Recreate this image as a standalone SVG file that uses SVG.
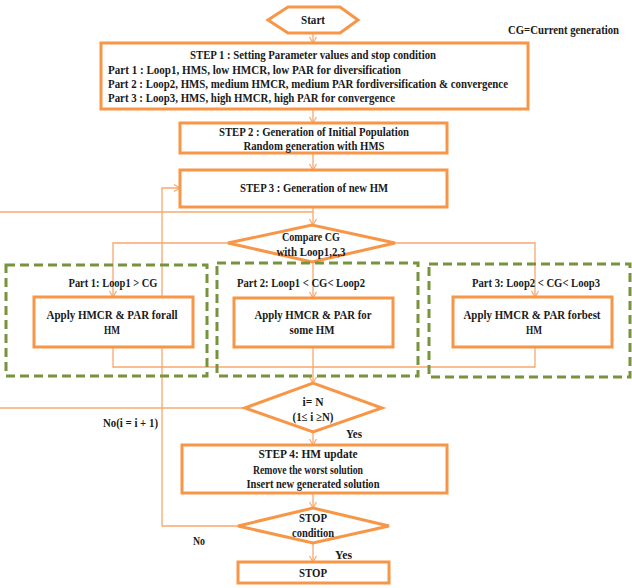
<svg xmlns="http://www.w3.org/2000/svg" width="632" height="588" viewBox="0 0 632 588">
<defs>
<style>
.box{fill:#fff;stroke:#F79646;stroke-width:3}
.dash{fill:none;stroke:#77933C;stroke-width:3;stroke-dasharray:9 5}
.con{fill:none;stroke:#F7A86E;stroke-width:1.3}
text{font-family:"Liberation Serif","Times New Roman",serif;font-weight:bold;font-size:12px;fill:#1a1a1a}
.c{text-anchor:middle}
</style>
<marker id="arr" markerUnits="userSpaceOnUse" markerWidth="10" markerHeight="10" refX="7" refY="4" orient="auto">
<path d="M1,0.5 L7,4 L1,7.5" fill="none" stroke="#F7A86E" stroke-width="1.2"/>
</marker>
</defs>
<rect width="632" height="588" fill="#fff"/>

<g id="connectors">
<path class="con" d="M313,33 V43" marker-end="url(#arr)"/>
<path class="con" d="M313,109 V123" marker-end="url(#arr)"/>
<path class="con" d="M313,153 V170" marker-end="url(#arr)"/>
<path class="con" d="M313,207 V225" marker-end="url(#arr)"/>
<path class="con" d="M0,212 H313"/>
<path class="con" d="M245,408 H0"/>
<path class="con" d="M228,243 H113 V297" marker-end="url(#arr)"/>
<path class="con" d="M395,243 H535 V297" marker-end="url(#arr)"/>
<path class="con" d="M313,262 V298" marker-end="url(#arr)"/>
<path class="con" d="M113,347 V367 H535 V347"/>
<path class="con" d="M313,347 V383" marker-end="url(#arr)"/>
<path class="con" d="M313,432 V445" marker-end="url(#arr)"/>
<path class="con" d="M313,493 V508" marker-end="url(#arr)"/>
<path class="con" d="M313,543 V562" marker-end="url(#arr)"/>
<path class="con" d="M238,526 H162 V188 H180" marker-end="url(#arr)"/>
</g>

<g id="start">
<polygon class="box" points="268,20 288,7 340,7 358,20 340,33 288,33"/>
<text class="c" x="313" y="24" textLength="24" lengthAdjust="spacingAndGlyphs">Start</text>
</g>
<g id="cg-note">
<text x="508" y="34" textLength="111" lengthAdjust="spacingAndGlyphs">CG=Current generation</text>
</g>

<g id="step1">
<rect class="box" x="101" y="43" width="427" height="66"/>
<text class="c" x="313" y="59" textLength="246" lengthAdjust="spacingAndGlyphs">STEP 1 : Setting Parameter values and stop condition</text>
<text x="108" y="74" textLength="293" lengthAdjust="spacingAndGlyphs">Part 1 : Loop1, HMS, low HMCR,  low PAR for diversification</text>
<text x="108" y="88" textLength="400" lengthAdjust="spacingAndGlyphs">Part 2 : Loop2, HMS, medium HMCR, medium PAR fordiversification &amp; convergence</text>
<text x="108" y="102" textLength="287" lengthAdjust="spacingAndGlyphs">Part 3 : Loop3, HMS, high HMCR,  high PAR for convergence</text>
</g>

<g id="step2">
<rect class="box" x="180" y="123" width="267" height="30"/>
<text class="c" x="314" y="136" textLength="190" lengthAdjust="spacingAndGlyphs">STEP 2 : Generation of Initial Population</text>
<text class="c" x="314" y="150" textLength="141" lengthAdjust="spacingAndGlyphs">Random generation with HMS</text>
</g>

<g id="step3">
<rect class="box" x="180" y="170" width="267" height="37"/>
<text class="c" x="314" y="192" textLength="148" lengthAdjust="spacingAndGlyphs">STEP 3 : Generation of new HM</text>
</g>

<g id="compare">
<polygon class="box" points="228,243 312,225 395,243 312,262"/>
<text class="c" x="311" y="241" textLength="58" lengthAdjust="spacingAndGlyphs">Compare CG</text>
<text class="c" x="311" y="256" textLength="69" lengthAdjust="spacingAndGlyphs">with Loop1,2,3</text>
</g>

<g id="part1">
<rect class="dash" x="6" y="265" width="201" height="111"/>
<text class="c" x="113" y="287" textLength="89" lengthAdjust="spacingAndGlyphs">Part 1: Loop1 &gt; CG</text>
<rect class="box" x="34" y="297" width="159" height="50"/>
<text class="c" x="112" y="319" textLength="131" lengthAdjust="spacingAndGlyphs">Apply HMCR  &amp; PAR forall</text>
<text class="c" x="112" y="334" textLength="16" lengthAdjust="spacingAndGlyphs">HM</text>
</g>

<g id="part2">
<rect class="dash" x="217" y="263" width="201" height="113"/>
<text class="c" x="301" y="287" textLength="128" lengthAdjust="spacingAndGlyphs">Part 2: Loop1 &lt; CG&lt; Loop2</text>
<rect class="box" x="234" y="298" width="159" height="49"/>
<text class="c" x="313" y="319" textLength="117" lengthAdjust="spacingAndGlyphs">Apply HMCR  &amp; PAR for</text>
<text class="c" x="312" y="334" textLength="45" lengthAdjust="spacingAndGlyphs">some HM</text>
</g>

<g id="part3">
<rect class="dash" x="429" y="264" width="201" height="113"/>
<text class="c" x="536" y="287" textLength="128" lengthAdjust="spacingAndGlyphs">Part 3: Loop2 &lt; CG&lt; Loop3</text>
<rect class="box" x="453" y="297" width="159" height="50"/>
<text class="c" x="532" y="319" textLength="137" lengthAdjust="spacingAndGlyphs">Apply HMCR  &amp; PAR forbest</text>
<text class="c" x="534" y="334" textLength="16" lengthAdjust="spacingAndGlyphs">HM</text>
</g>

<g id="check-n">
<polygon class="box" points="245,408 313,383 382,408 313,432"/>
<text class="c" x="313" y="406" textLength="21" lengthAdjust="spacingAndGlyphs">i= N</text>
<text class="c" x="313" y="421" textLength="41" lengthAdjust="spacingAndGlyphs">(1≤ i ≥N)</text>
<text x="346" y="438" textLength="16" lengthAdjust="spacingAndGlyphs">Yes</text>
<text x="103" y="427" textLength="55" lengthAdjust="spacingAndGlyphs">No(i = i + 1)</text>
</g>

<g id="step4">
<rect class="box" x="182" y="445" width="265" height="48"/>
<text class="c" x="308" y="458" textLength="99" lengthAdjust="spacingAndGlyphs">STEP 4: HM update</text>
<text class="c" x="308" y="474" textLength="110" lengthAdjust="spacingAndGlyphs">Remove the worst solution</text>
<text class="c" x="313" y="488" textLength="133" lengthAdjust="spacingAndGlyphs">Insert new generated solution</text>
</g>

<g id="stop-cond">
<polygon class="box" points="238,526 313,508 389,526 313,543"/>
<text class="c" x="313" y="522" textLength="28" lengthAdjust="spacingAndGlyphs">STOP</text>
<text class="c" x="313" y="537" textLength="42" lengthAdjust="spacingAndGlyphs">condition</text>
<text x="193" y="545" textLength="12" lengthAdjust="spacingAndGlyphs">No</text>
<text x="335" y="559" textLength="17" lengthAdjust="spacingAndGlyphs">Yes</text>
</g>

<g id="stop">
<rect class="box" x="238" y="562" width="151" height="21"/>
<text class="c" x="313" y="577" textLength="28" lengthAdjust="spacingAndGlyphs">STOP</text>
</g>
</svg>
